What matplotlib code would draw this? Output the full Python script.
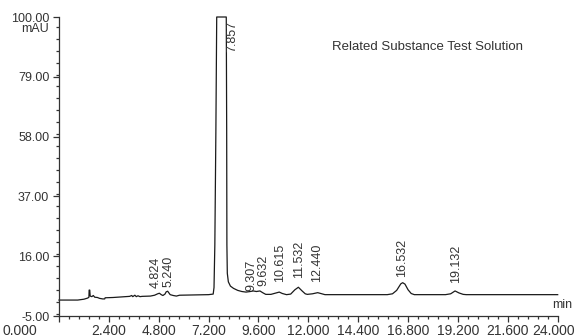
import numpy as np
import matplotlib
matplotlib.use('Agg')
import matplotlib.pyplot as plt
import matplotlib.transforms as mtransforms
from matplotlib.ticker import MultipleLocator

plt.rcParams['font.family'] = ['Liberation Sans', 'DejaVu Sans']

# trace (time in min, signal in mAU)
time = [0.0, 0.9, 1.2, 1.38, 1.44, 1.45, 1.48, 1.50, 1.58, 1.65, 1.72, 1.85, 1.95,
        2.1, 2.2, 2.22, 2.6, 3.0, 3.4, 3.5, 3.55, 3.65, 3.72, 3.8, 3.9, 4.0, 4.4,
        4.6, 4.75, 4.83, 4.92, 5.0, 5.1, 5.16, 5.23, 5.3, 5.35, 5.5, 5.65, 5.8,
        6.5, 7.2, 7.42, 7.46, 7.5, 7.55, 7.59, 8.05, 8.07, 8.08, 8.1, 8.15, 8.25,
        8.4, 8.6, 8.8, 9.0, 9.2, 9.35, 9.5, 9.67, 9.8, 9.95, 10.2, 10.45, 10.6,
        10.75, 10.95, 11.15, 11.35, 11.52, 11.7, 11.85, 11.95, 12.2, 12.45, 12.6,
        12.8, 15.8, 16.05, 16.25, 16.45, 16.54, 16.65, 16.8, 16.95, 17.1, 18.6,
        18.85, 19.06, 19.25, 19.45, 19.6, 24.0]
signal = [0.6, 0.6, 0.9, 1.3, 1.6, 4.1, 4.1, 2.0, 1.8, 2.2, 1.6, 1.5, 1.2,
          1.0, 1.0, 1.4, 1.5, 1.7, 1.9, 2.2, 1.8, 2.3, 1.8, 2.1, 1.8, 1.9, 2.0,
          2.3, 2.8, 3.0, 2.5, 2.2, 2.7, 3.5, 3.7, 3.0, 2.5, 2.2, 2.0, 2.3,
          2.4, 2.5, 2.7, 5.0, 20.0, 60.0, 100.0, 100.0, 60.0, 20.0, 10.0, 7.0, 5.5,
          4.7, 4.0, 3.6, 3.4, 3.6, 3.8, 3.6, 3.8, 3.2, 2.6, 2.6, 3.1, 3.4,
          2.9, 2.5, 2.7, 4.2, 5.1, 3.8, 2.8, 2.6, 2.8, 3.2, 2.9,
          2.5, 2.5, 2.8, 4.0, 6.3, 6.7, 6.2, 4.2, 2.9, 2.5, 2.5,
          2.8, 3.8, 3.1, 2.6, 2.5, 2.5]

peak_times = [4.824, 5.240, 7.857, 9.307, 9.632, 10.615, 11.532, 12.440, 16.532, 19.132]
peak_labels = ['4.824', '5.240', '7.857', '9.307', '9.632', '10.615', '11.532',
               '12.440', '16.532', '19.132']

fig = plt.figure(figsize=(5.79, 3.36), dpi=100)
ax = fig.add_axes([0.1019, 0.0595, 0.8613, 0.8899])

ax.plot(time, signal, color='#1a1a1a', lw=0.9, clip_on=False)

ax.set_xlim(0, 24)
ax.set_ylim(-5, 100)
ax.xaxis.set_minor_locator(MultipleLocator(0.48))
ax.yaxis.set_minor_locator(MultipleLocator(4.2))
ax.set_yticks([-5, 16, 37, 58, 79, 100])
ax.set_xticks(np.arange(0, 24.01, 2.4))
ax.set_xticklabels(['%.3f' % v for v in ax.get_xticks()])
ax.set_yticklabels(['%.2f' % v for v in ax.get_yticks()])
for s in ['top', 'right']:
    ax.spines[s].set_visible(False)
for s in ['left', 'bottom']:
    ax.spines[s].set_color('#333333')
    ax.spines[s].set_linewidth(0.9)
ax.tick_params(which='major', length=4, width=0.9, pad=3, labelsize=9,
               color='#333333', labelcolor='#333333')
ax.tick_params(axis='x', which='major', pad=1.5, labelsize=10)
ax.tick_params(which='minor', length=2.5, width=0.9, color='#333333')

# end labels sit pulled in from their ticks in the original
xticks = ax.xaxis.get_major_ticks()
for tk, dx in [(xticks[0], -28), (xticks[-1], -3)]:
    lab = tk.label1
    lab.set_transform(lab.get_transform() +
                      mtransforms.ScaledTranslation(dx / 72, 0, fig.dpi_scale_trans))

# peak labels: height and small sideways nudge (points) as in the picture
label_y = [4.7, 5.1, 98.6, 3.9, 5.5, 7.0, 8.2, 7.0, 8.8, 6.5]
label_dx = [-2.5, 0.5, 0, -0.5, 3, 0, 0, 0, 0, 0]
for t, lab, y, dx in zip(peak_times, peak_labels, label_y, label_dx):
    if lab == '7.857':
        ax.text(8.33, y, lab, rotation=90, ha='center', va='top',
                fontsize=9, color='#333333')
    else:
        ax.annotate(lab, (t, y), xytext=(dx, 0), textcoords='offset points',
                    rotation=90, ha='center', va='bottom',
                    fontsize=9, color='#333333')

ax.text(-0.021, 0.96, 'mAU', transform=ax.transAxes, ha='right', va='center',
        fontsize=9, color='#333333')
ax.text(1.0086, 0.037, 'min', transform=ax.transAxes, ha='center', va='center',
        fontsize=9, color='#333333')
ax.text(0.547, 0.90, 'Related Substance Test Solution', transform=ax.transAxes,
        ha='left', va='center', fontsize=9.5, color='#333333')

fig.savefig('out.png', dpi=100)
